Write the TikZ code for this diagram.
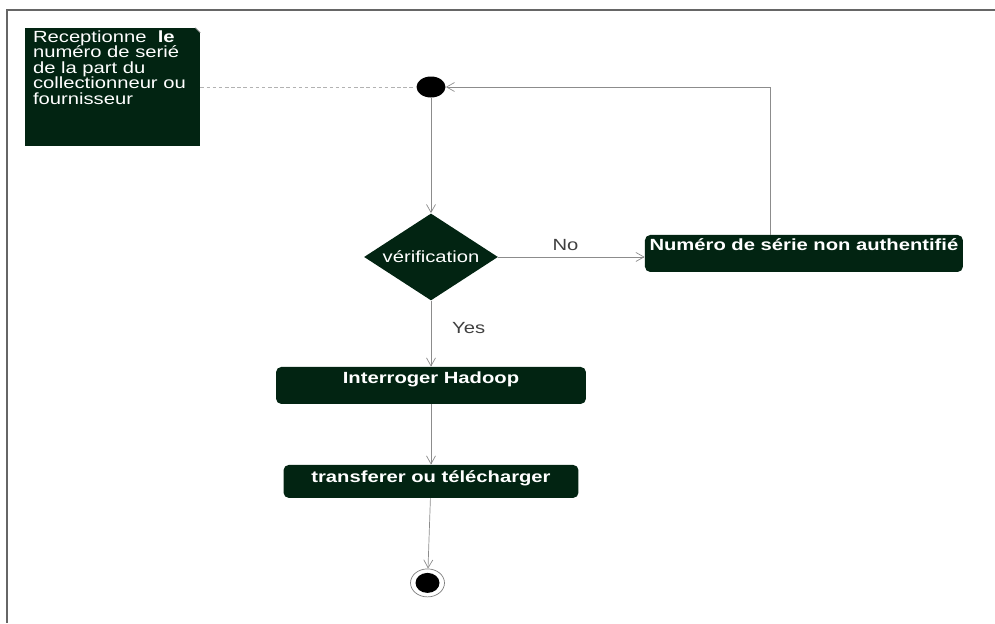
\documentclass[tikz,border=0pt]{standalone}
\usepackage{fontspec}
\setmainfont{Liberation Sans}[FakeStretch=1.25]
\usetikzlibrary{shapes.geometric, arrows.meta}
\usetikzlibrary{positioning}
\definecolor{umlgreen}{RGB}{2,36,18}
\newcommand{\umlsize}{\fontsize{9.2pt}{8.8pt}\selectfont}
\tikzstyle{arrow} = [thin, draw=black!45, -{Straight Barb[length=1.6mm, width=1.8mm]}]
\tikzstyle{initial} = [ellipse, fill=black, minimum width=0.58cm, minimum height=0.42cm, inner sep=0pt]
\tikzstyle{final} = [ellipse, draw=black!50, fill=white, minimum width=0.68cm, minimum height=0.56cm, inner sep=0pt]
\tikzstyle{finaldot} = [ellipse, fill=black, minimum width=0.48cm, minimum height=0.40cm, inner sep=0pt]
\tikzstyle{decision} = [diamond, aspect=1.54, minimum width=2.68cm, minimum height=1.74cm, inner sep=0pt, fill=umlgreen, text=white]
\tikzstyle{action} = [rectangle, rounded corners=3pt, fill=umlgreen, text=white, font=\umlsize\bfseries, inner sep=0pt, text height=0.34cm, text depth=0.40cm]
\tikzstyle{memo} = [rectangle, fill=umlgreen, minimum width=3.5cm, minimum height=2.36cm, inner sep=0pt]

\begin{document}
\begin{tikzpicture}[x=0.02cm, y=-0.02cm, font=\umlsize]

    \useasboundingbox (0,0) rectangle (995,623);
    \draw [black!60, line width=0.8pt] (995,10) -- (7,10) -- (7,623);

    \node (start) [initial] at (431,87) {};
    \node (check) [decision, below of=start, node distance=3.4cm] {vérification};
    \node (nope) [action, right of=check, node distance=7.46cm, yshift=0.07cm, minimum width=6.36cm, text height=0.32cm, text depth=0.42cm] {Numéro de série non authentifié};
    \node (query) [action, below of=check, node distance=2.57cm, minimum width=6.2cm] {Interroger Hadoop};
    \node (transfer) [action, below of=query, node distance=1.92cm, minimum width=5.9cm, text height=0.36cm, text depth=0.30cm] {transferer ou télécharger};
    \node (stop) [final, below of=transfer, node distance=2.03cm, xshift=-0.07cm] {};
    \node (stopdot) [finaldot] at (stop) {};
    \node (note) [memo, left of=start, node distance=6.37cm] {};
    \node (notetext) [anchor=north west, align=left, inner sep=0pt, text=white] at ([xshift=0.16cm, yshift=-0.05cm]note.north west) {Receptionne~ \textbf{le}\\numéro de serié\\de la part du\\collectionneur ou\\fournisseur};
    \fill [white] ([xshift=-0.1cm]note.north east) -- (note.north east) -- ([yshift=-0.1cm]note.north east) -- cycle;
    \draw [black!40] ([xshift=-0.1cm]note.north east) -- ([yshift=-0.1cm]note.north east);

    \draw [black!30, dash pattern=on 2pt off 1.5pt] (note) -- (start);
    \draw [arrow] (start) -- (check);
    \draw [arrow] (check) -- node [above, xshift=-0.12cm, text=black!75] {No} (check -| nope.west);
    \draw [arrow] ([xshift=-0.68cm]nope.north) |- (start);
    \draw [arrow] (check) -- node [right, pos=0.42, xshift=0.3cm, text=black!75] {Yes} (query);
    \draw [arrow] (query) -- (transfer);
    \draw [arrow] (transfer) -- (stop);

\end{tikzpicture}
\end{document}
